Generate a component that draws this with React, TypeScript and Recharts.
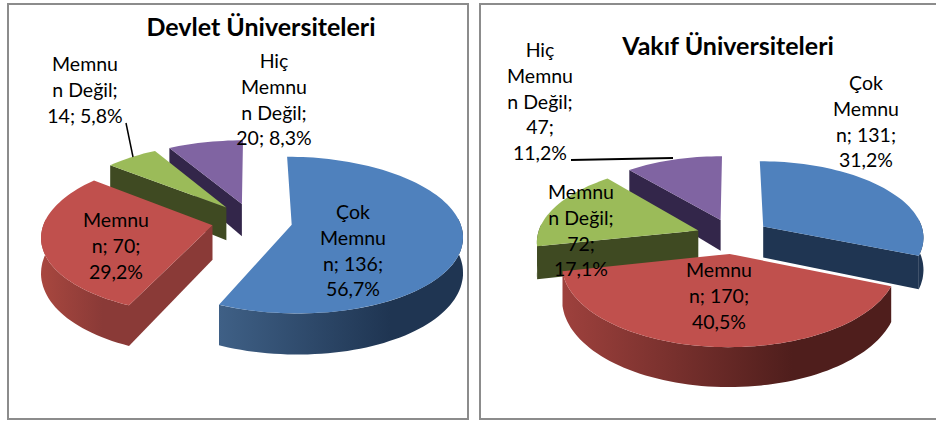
import { PieChart, Pie } from 'recharts';

const categories = ['Çok Memnun', 'Memnun', 'Memnun Değil', 'Hiç Memnun Değil'];
const devletValues = [136, 70, 14, 20];
const vakifValues = [131, 170, 72, 47];

const devletLabels = [
  ['Çok', 'Memnu', 'n; 136;', '56,7%'],
  ['Memnu', 'n; 70;', '29,2%'],
  ['Memnu', 'n Değil;', '14; 5,8%'],
  ['Hiç', 'Memnu', 'n Değil;', '20; 8,3%'],
];
const vakifLabels = [
  ['Çok', 'Memnu', 'n; 131;', '31,2%'],
  ['Memnu', 'n; 170;', '40,5%'],
  ['Memnu', 'n Değil;', '72;', '17,1%'],
  ['Hiç', 'Memnu', 'n Değil;', '47;', '11,2%'],
];

const colors = ['#4f81bd', '#c0504d', '#9bbb59', '#8064a2'];
const FONT = 'Lato, "Noto Sans", sans-serif';
const LINE = 25.8;

// settings for the fake 3D look, one per chart
const devlet = {
  id: 'devlet',
  cx: 252,
  cy: 221,
  rx: 168,
  ry: 76,
  explode: 0.24,
  depth: 34,
  labelPos: [[353, 212], [116, 220], [85, 64], [274, 61]],
  leader: [126, 123, 133, 157],
  leaderWidth: 1.5,
  walls: [['#3f6086', '#1f3552'], ['#a8473f', '#8a3a37'], ['#3f4a22', '#3f4a22'], ['#33264a', '#33264a']],
};
const vakif = {
  id: 'vakif',
  cx: 733,
  cy: 236,
  rx: 161,
  ry: 76,
  explode: 0.23,
  depth: 32,
  labelPos: [[866, 83], [719, 270], [581, 192], [540, 50]],
  leader: [571, 160, 673, 158],
  leaderWidth: 2,
  walls: [['#1f3552', '#1f3552'], ['#9e413d', '#4f1e1c'], ['#3f4a22', '#3f4a22'], ['#33264a', '#33264a']],
};

const PERSPECTIVE = 0.13;

function makeTable(values: number[]) {
  // reversed + counter clockwise sweep, so the slices paint back to front
  return values
    .map((value, i) => ({ name: categories[i], value, order: i, fill: colors[i] }))
    .reverse();
}

function sliceShape(cfg: typeof devlet) {
  return function Slice(props: any) {
    const { startAngle, endAngle, cx, cy, payload } = props;
    const i = payload.order;
    // clockwise degrees from 12 o'clock, 0..360
    const from = 450 - Math.max(startAngle, endAngle);
    const to = 450 - Math.min(startAngle, endAngle);
    const mid = (((from + to) / 2) * Math.PI) / 180;
    const ex = cfg.explode * Math.sin(mid);
    const ey = cfg.explode * Math.cos(mid);

    const project = (X: number, Y: number, down: boolean) => {
      const s = 1 / (1 + PERSPECTIVE * Y);
      const d = down ? cfg.depth * (1 - 0.2 * Y) : 0;
      return [cx + X * cfg.rx * s, cy - Y * cfg.ry * s + d];
    };
    const arc = (a0: number, a1: number, down: boolean) => {
      const pts: number[][] = [];
      for (let a = a0; a < a1; a += 2) {
        const t = (a * Math.PI) / 180;
        pts.push(project(ex + Math.sin(t), ey + Math.cos(t), down));
      }
      const t = (a1 * Math.PI) / 180;
      pts.push(project(ex + Math.sin(t), ey + Math.cos(t), down));
      return pts;
    };
    const toPath = (pts: number[][]) =>
      'M' + pts.map((p) => p[0].toFixed(1) + ' ' + p[1].toFixed(1)).join('L') + 'Z';

    const top = arc(from, to, false);
    const bottom = arc(from, to, true);
    const apex = project(ex, ey, false);
    const apexLow = project(ex, ey, true);
    const gradId = cfg.id + '-wall-' + i;
    const [light, dark] = cfg.walls[i];

    // only the walls facing the viewer get drawn
    const stripFrom = Math.max(from, 85);
    const stripTo = Math.min(to, 275);
    const hasStrip = stripTo > stripFrom;
    const fromVisible = Math.sin((from * Math.PI) / 180) < -0.01;
    const toVisible = Math.sin((to * Math.PI) / 180) > 0.01;

    return (
      <g>
        <defs>
          <linearGradient id={gradId} x1="0" y1="0" x2="1" y2="0">
            <stop offset="0%" stopColor={light} />
            <stop offset="70%" stopColor={dark} />
            <stop offset="100%" stopColor={dark} />
          </linearGradient>
        </defs>
        {fromVisible && <path d={toPath([apex, top[0], bottom[0], apexLow])} fill={dark} />}
        {toVisible && (
          <path d={toPath([apex, top[top.length - 1], bottom[bottom.length - 1], apexLow])} fill={dark} />
        )}
        {hasStrip && (
          <path
            d={toPath([...arc(stripFrom, stripTo, false), ...arc(stripFrom, stripTo, true).reverse()])}
            fill={`url(#${gradId})`}
          />
        )}
        <path d={toPath([apex, ...top])} fill={payload.fill} />
      </g>
    );
  };
}

function sliceLabel(cfg: typeof devlet, lines: string[][]) {
  return function SliceLabel(props: any) {
    const i = props.payload.order;
    const [x, y] = cfg.labelPos[i];
    const isLeader = i === (cfg.id === 'devlet' ? 2 : 3);
    const [x1, y1, x2, y2] = cfg.leader;
    return (
      <g>
        {isLeader && <line x1={x1} y1={y1} x2={x2} y2={y2} stroke="#000" strokeWidth={cfg.leaderWidth} />}
        <text x={x} y={y + 7} textAnchor="middle" fontFamily={FONT} fontSize={19.5} fill="#000">
          {lines[i].map((line, n) => (
            <tspan key={n} x={x} dy={n === 0 ? 0 : LINE}>
              {line}
            </tspan>
          ))}
        </text>
      </g>
    );
  };
}

const frame = { position: 'absolute', border: '2px solid #8c8c8c', boxSizing: 'border-box' } as const;
const title = {
  position: 'absolute',
  fontFamily: FONT,
  fontWeight: 700,
  fontSize: 25,
  lineHeight: '30px',
  color: '#000',
  whiteSpace: 'nowrap',
  transform: 'translateX(-50%)',
} as const;

export default function App() {
  return (
    <div style={{ position: 'absolute', left: 0, top: 0, width: 936, height: 421, overflow: 'hidden', background: '#fff' }}>
      <div style={{ ...frame, left: 7, top: 3, width: 462, height: 417 }} />
      <div style={{ ...frame, left: 479, top: 3, width: 470, height: 417 }} />
      <div style={{ position: 'absolute', left: 0, top: 0 }}>
        <PieChart width={936} height={421} margin={{ top: 0, right: 0, bottom: 0, left: 0 }}>
          <Pie
            data={makeTable(devletValues)}
            dataKey="value"
            nameKey="name"
            cx={devlet.cx}
            cy={devlet.cy}
            outerRadius={devlet.rx}
            startAngle={90}
            endAngle={450}
            shape={sliceShape(devlet)}
            label={sliceLabel(devlet, devletLabels)}
            labelLine={false}
            isAnimationActive={false}
          />
          <Pie
            data={makeTable(vakifValues)}
            dataKey="value"
            nameKey="name"
            cx={vakif.cx}
            cy={vakif.cy}
            outerRadius={vakif.rx}
            startAngle={90}
            endAngle={450}
            shape={sliceShape(vakif)}
            label={sliceLabel(vakif, vakifLabels)}
            labelLine={false}
            isAnimationActive={false}
          />
        </PieChart>
      </div>
      <div style={{ ...title, left: 261, top: 11 }}>Devlet Üniversiteleri</div>
      <div style={{ ...title, left: 728, top: 30 }}>Vakıf Üniversiteleri</div>
    </div>
  );
}
